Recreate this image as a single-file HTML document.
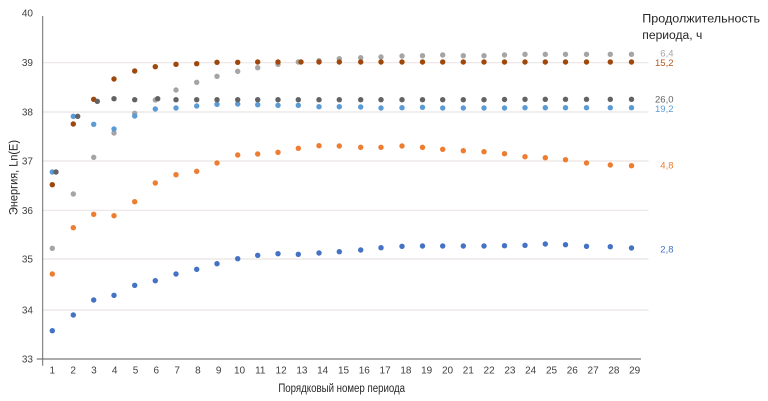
<!DOCTYPE html>
<html><head><meta charset="utf-8"><style>
html,body{margin:0;padding:0;background:#fff;}
svg{display:block;}
text{font-family:"Liberation Sans","DejaVu Sans",sans-serif;}
</style></head><body>
<svg width="768" height="401" viewBox="0 0 768 401" xmlns="http://www.w3.org/2000/svg">
<rect width="768" height="401" fill="#fff"/>
<g stroke="#ebe4e4" stroke-width="1.2">
<line x1="43" y1="62.7" x2="648.5" y2="62.7"/>
<line x1="43" y1="112" x2="648.5" y2="112"/>
<line x1="43" y1="161" x2="648.5" y2="161"/>
<line x1="43" y1="210.3" x2="648.5" y2="210.3"/>
<line x1="43" y1="259" x2="648.5" y2="259"/>
<line x1="43" y1="310" x2="648.5" y2="310"/>
</g>
<line x1="36.7" y1="359" x2="641" y2="359" stroke="#7a7a7a" stroke-width="1.3"/>
<line x1="42.7" y1="16" x2="42.7" y2="365.7" stroke="#6b6b6b" stroke-width="1"/>
<g font-size="10" fill="#404040" text-anchor="end">
<text x="33" y="16.7">40</text>
<text x="33" y="66.2">39</text>
<text x="33" y="115.5">38</text>
<text x="33" y="164.5">37</text>
<text x="33" y="213.8">36</text>
<text x="33" y="262.5">35</text>
<text x="33" y="313.5">34</text>
<text x="33" y="362.5">33</text>
</g>
<g font-size="10" fill="#404040" text-anchor="middle" id="xl"></g>
<text x="341.7" y="392" font-size="11.5" fill="#262626" text-anchor="middle" textLength="126.7" lengthAdjust="spacingAndGlyphs">Порядковый номер периода</text>
<text transform="translate(17.5,177.5) rotate(-90)" font-size="11.5" fill="#262626" text-anchor="middle" textLength="75" lengthAdjust="spacingAndGlyphs">Энергия, Ln(E)</text>
<text x="642.3" y="22.7" font-size="11.5" fill="#262626" textLength="117.7" lengthAdjust="spacingAndGlyphs">Продолжительность</text>
<text x="642.3" y="39" font-size="11.5" fill="#262626" textLength="60" lengthAdjust="spacingAndGlyphs">периода, ч</text>
<g font-size="9.5" text-anchor="end">
<text x="673.5" y="56.7" fill="#a5a5a5">6,4</text>
<text x="673.5" y="66.1" fill="#b5561c">15,2</text>
<text x="673.5" y="102.4" fill="#636363">26,0</text>
<text x="673.5" y="112.1" fill="#5b9bd5">19,2</text>
<text x="673.5" y="168.4" fill="#ed7d31">4,8</text>
<text x="673.5" y="252.4" fill="#4472c4">2,8</text>
</g>
<g id="dots"></g>
<script>
(function(){
var NS="http://www.w3.org/2000/svg";
var xl=document.getElementById('xl');
for(var n=1;n<=29;n++){var t=document.createElementNS(NS,'text');t.setAttribute('x',(52.3+(n-1)*20.8).toFixed(1));t.setAttribute('y','373.5');t.textContent=n;xl.appendChild(t);}
var xs=[52.3,73.3,93.7,114,134.7,155.3,176,196.7,217,237.7,257.7,278,298.3,319,339.3,360.7,381,402,422.5,442.7,463.3,484,504.5,525,545.3,565.5,586.5,610.3,631.5];
var S=[
{c:"#4472c4",y:[330.7,315,300,295.3,285.3,280.7,274,269.3,263.7,258.7,255.3,253.7,254.3,253,251.7,250,247.7,246.3,246,246,246,246,245.7,245.3,244,244.7,246.3,246.7,248]},
{c:"#ed7d31",y:[274,227.7,214.3,215.7,201.7,183,174.7,171.3,163,155,154,152.3,148.3,145.7,146,147.3,147.3,146,147.3,149.3,150.7,151.7,153.7,156.7,157.7,159.7,163,165,165.7]},
{c:"#a5a5a5",y:[248.3,194,157.3,133,113.3,100,90,82.3,76.3,71.3,67.7,64.3,62,60.7,58.7,57.7,57,56,55.7,55,55.7,55.7,55,54.3,54.3,54.3,54.3,54.3,54.3]},
{c:"#9e480e",y:[184.7,124,99.3,79,71,66.7,64.3,63.7,62.3,62.3,62,62,62,62,62,62,62,62,62,62,62,62,62,62,62,62,62,62,62],dx:{13:2.7}},
{c:"#5b9bd5",y:[172,116.3,124.3,129,116,109,108,106,104.3,104,104.7,105.3,105.3,106.7,106.7,107,108,107.7,107.3,108,108,108,108,107.7,107.7,107.7,107.7,107.7,107.7]},
{c:"#636363",y:[172,116.3,101.3,98.7,99.7,98.7,99.7,99.7,99.7,99.7,99.7,99.7,99.7,99.7,99.7,99.7,99.7,99.7,99.7,99.7,99.7,99.7,99.5,99.3,99.3,99.3,99.3,99.3,99.3],dx:{1:3.7,2:4.4,3:3.6,6:2.4}}
];
var g=document.getElementById('dots');
S.forEach(function(s){s.y.forEach(function(y,i){var c=document.createElementNS(NS,'circle');var dx=(s.dx&&s.dx[i+1])||0;c.setAttribute('cx',(xs[i]+dx).toFixed(1));c.setAttribute('cy',y);c.setAttribute('r','2.7');c.setAttribute('fill',s.c);g.appendChild(c);});});
})();
</script>
</svg>
</body></html>
